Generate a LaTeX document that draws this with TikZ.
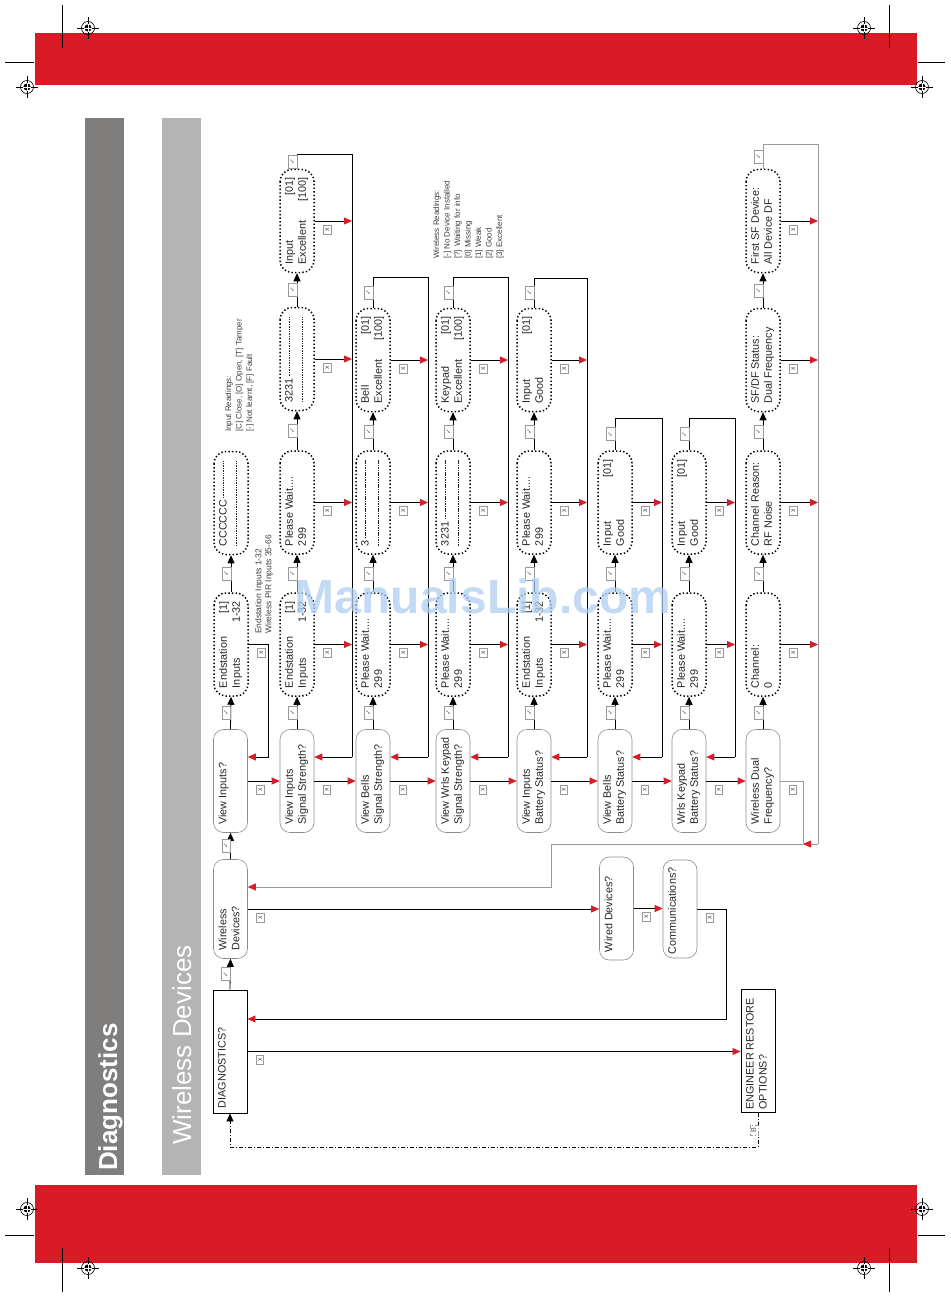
\documentclass[tikz,border=0pt]{standalone}
\usepackage{fontspec}
\setmainfont{Liberation Sans}
\newfontfamily\dejavu{DejaVu Sans}
\usetikzlibrary{arrows.meta,calc}
\definecolor{bandred}{RGB}{216,27,36}
\definecolor{arrred}{RGB}{215,30,40}
\definecolor{darkbar}{RGB}{128,126,124}
\definecolor{lightbar}{RGB}{180,180,180}
\definecolor{wmark}{RGB}{175,205,242}
\newcommand\nt[2][87pt]{\parbox[c][24pt][t]{#1}{\raggedright #2}}
\newcommand\rt{\hskip0pt plus1filll\relax}
\newcommand\dfill{\leavevmode\leaders\hbox to 2.4pt{\hss\rule[2.8pt]{1.5pt}{0.45pt}\hss}\hskip0pt plus1filll\mbox{}}
\newcommand\regmk[2]{%
  \draw[line width=0.5pt] (#1-11,#2) -- (#1+11,#2) (#1,#2-11) -- (#1,#2+11);
  \draw[line width=0.6pt] (#1,#2) circle (6.5pt);
  \fill (#1,#2) circle (3.6pt);
  \draw[white, line width=0.5pt] (#1-3.6,#2) -- (#1+3.6,#2) (#1,#2-3.6) -- (#1,#2+3.6);}
\tikzset{
  base/.style={rotate=90, inner xsep=8pt, inner ysep=5pt, font=\fontsize{10.8}{13}\selectfont, text=black!85},
  qbox/.style={base, draw=black!45, line width=0.6pt, rounded corners=10pt},
  dbox/.style={base, draw=black, line width=1.5pt, dash pattern=on 1.4pt off 2.2pt, rounded corners=12pt},
  sbox/.style={base, draw=black, line width=0.9pt},
  ln/.style={line width=0.8pt, black},
  gry/.style={line width=0.8pt, black!40},
  yes/.style={ln, -{Triangle[length=8pt,width=7pt]}},
  no/.style={ln, -{Triangle[length=8pt,width=7pt,color=arrred]}},
  redtip/.style={-{Triangle[length=8pt,width=7pt,color=arrred]}},
  tick/.style={rotate=90, draw=black!40, fill=white, line width=0.5pt, inner sep=0pt, minimum width=13pt, minimum height=8.5pt, font=\dejavu\fontsize{7}{7}\selectfont, text=black!60, anchor=south},
  xlab/.style={rotate=90, draw=black!40, fill=white, line width=0.5pt, inner sep=0pt, minimum width=9pt, minimum height=7.5pt, font=\fontsize{7}{7}\selectfont, text=black!70},
  note/.style={rotate=90, align=left, inner sep=0pt, font=\fontsize{8}{10.5}\selectfont, text=black!75, anchor=north west}
}
\newcommand\xr[2]{\draw[no] (#1.south) -- (#1.south -| #2); \node[xlab] at ($(#1.south)+(12.5,8.5)$) {x};}
\newcommand\ret[3]{%
  \draw[ln] (#1#3.east) -- node[tick]{✓} (#1#3.east |- #2) -- (#2) -- (#2 |- in0);
  \draw[no] (#2 |- in0) -- (#10.south |- in0);}
\begin{document}
\begin{tikzpicture}[x=1pt, y=-1pt]
\useasboundingbox (0,0) rectangle (950,1297);
% page furniture
\fill[bandred] (35,33) rectangle (917,85);
\fill[bandred] (35,1185) rectangle (917,1263);
\fill[darkbar] (85,118) rectangle (124,1175);
\fill[lightbar] (162,118) rectangle (201,1175);
\draw[line width=0.5pt] (62,5) -- (62,48) (5,62) -- (34,62) (889,5) -- (889,48) (918,62) -- (945,62);
\draw[line width=0.5pt] (62,1248) -- (62,1292) (5,1235) -- (34,1235) (889,1248) -- (889,1292) (918,1235) -- (945,1235);
\regmk{88}{28} \regmk{864}{28} \regmk{27}{87} \regmk{922}{87}
\regmk{27}{1209} \regmk{922}{1209} \regmk{88}{1268} \regmk{864}{1268}
\node[rotate=90, anchor=base west, inner sep=0pt, text=white, font=\bfseries\fontsize{26}{26}\selectfont] (ttl) at (117,1171) {Diagnostics};
\node[rotate=90, anchor=base west, inner sep=0pt, text=white, font=\fontsize{26}{26}\selectfont] (sub) at (191,1145) {Wireless Devices};
% nodes
\node[qbox] (A0) at (230.5,781) {\nt{View Inputs?}};
\node[dbox] (A1) at (231,644.5) {\nt{Endstation\rt[1]\\Inputs\rt 1-32}};
\node[dbox] (A2) at (231,503) {\nt{CCCCCC\dfill\\\dfill}};
\node[qbox] (AW) at (230.5,909) {\nt[83pt]{Wireless\\Devices?}};
\node[sbox, inner xsep=5pt] (AD) at (230,1051.5) {\nt[113pt]{DIAGNOSTICS?}};
\node[qbox] (B0) at (297,781) {\nt{View Inputs\\Signal Strength?}};
\node[dbox] (B1) at (297,644.5) {\nt{Endstation\rt[1]\\Inputs\rt 1-32}};
\node[dbox] (B2) at (297,502.5) {\nt{Please Wait....\\299}};
\node[dbox] (B3) at (297,359) {\nt{3231\dfill\\\dfill}};
\node[dbox] (B4) at (297,221) {\nt{Input\rt[01]\\Excellent\rt[100]}};
\node[qbox] (C0) at (373,781) {\nt{View Bells\\Signal Strength?}};
\node[dbox] (C1) at (373,644.5) {\nt{Please Wait....\\299}};
\node[dbox] (C2) at (373,502.5) {\nt{3\dfill\\\dfill}};
\node[dbox] (C3) at (373,360) {\nt{Bell\rt[01]\\Excellent\rt[100]}};
\node[qbox] (D0) at (453,781) {\nt{View Wrls Keypad\\Signal Strength?}};
\node[dbox] (D1) at (453,644.5) {\nt{Please Wait....\\299}};
\node[dbox] (D2) at (453,502.5) {\nt{3231\dfill\\\dfill}};
\node[dbox] (D3) at (453,360) {\nt{Keypad\rt[01]\\Excellent\rt[100]}};
\node[qbox] (E0) at (534,781) {\nt{View Inputs\\Battery Status?}};
\node[dbox] (E1) at (534,644.5) {\nt{Endstation\rt[1]\\Inputs\rt 1-32}};
\node[dbox] (E2) at (534,502.5) {\nt{Please Wait....\\299}};
\node[dbox] (E3) at (534,360) {\nt{Input\rt[01]\\Good}};
\node[qbox] (F0) at (615,781) {\nt{View Bells\\Battery Status?}};
\node[dbox] (F1) at (615,644.5) {\nt{Please Wait....\\299}};
\node[dbox] (F2) at (615,502.5) {\nt{Input\rt[01]\\Good}};
\node[qbox] (G0) at (689,781) {\nt{Wrls Keypad\\Battery Status?}};
\node[dbox] (G1) at (689,644.5) {\nt{Please Wait....\\299}};
\node[dbox] (G2) at (689,502.5) {\nt{Input\rt[01]\\Good}};
\node[qbox] (H0) at (763,781) {\nt{Wireless Dual\\Frequency?}};
\node[dbox] (H1) at (763,644.5) {\nt{Channel:\\0}};
\node[dbox] (H2) at (763,502.5) {\nt{Channel Reason:\\RF Noise}};
\node[dbox] (H3) at (763,360) {\nt{SF/DF Status:\\Dual Frequency}};
\node[dbox] (H4) at (763,221) {\nt{First SF Device:\\All Device DF}};
\node[qbox] (WD) at (616.5,908.5) {\nt{Wired Devices?}};
\node[qbox, inner xsep=4pt] (CM) at (680,909) {\nt[90pt]{Communications?}};
\node[sbox, inner xsep=3pt] (EN) at (758,1051) {\nt[117pt]{ENGINEER RESTORE\\OPTIONS?}};
% notes
\node[note] (n1) at (225,432) {Input Readings:\\{}[C] Close, [O] Open, [T] Tamper\\{}[-] Not learnt, [F] Fault};
\node[note, font=\fontsize{8.5}{10}\selectfont] (n2) at (255,634) {Endstation Inputs 1-32\\Wireless PIR Inputs 35-66};
\node[note] (n3) at (433,259) {Wireless Readings:\\{}[-] No Device Installed\\{}[?] Waiting for info\\{}[0] Missing\\{}[1] Weak\\{}[2] Good\\{}[3] Excellent};
% coordinates
\coordinate (in0) at (0,757);
\coordinate (rA) at (268,644.5);
\coordinate (rB) at (352,154);
\coordinate (rC) at (428,277);
\coordinate (rD) at (508,277);
\coordinate (rE) at (587,278);
\coordinate (rF) at (662,418);
\coordinate (rG) at (735,418);
\coordinate (rH) at (818,144);
\coordinate (rHb) at (818,844);
\coordinate (jH) at (803,844);
\coordinate (k1) at (551,844);
\coordinate (k2) at (551,887);
\coordinate (cR) at (726,1019);
\coordinate (bB) at (758,1147);
% yes connectors
\foreach \a/\b in {AD/AW, AW/A0, A0/A1, A1/A2, B0/B1, B1/B2, B2/B3, B3/B4, C0/C1, C1/C2, C2/C3, D0/D1, D1/D2, D2/D3, E0/E1, E1/E2, E2/E3, F0/F1, F1/F2, G0/G1, G1/G2, H0/H1, H1/H2, H2/H3, H3/H4}
  \draw[yes] (\a.east) -- node[tick]{✓} (\b.west);
% row of questions
\foreach \a/\b in {A0/B0, B0/C0, C0/D0, D0/E0, E0/F0, F0/G0, G0/H0}{
  \draw[no] (\a.south) -- (\b.north);
  \node[xlab] at ($(\a.south)+(12.5,8.5)$) {x};}
% column A
\draw[no] (A1.south) -- (A1.south -| rA) -- (rA |- in0) -- (A0.south |- in0);
\node[xlab] at ($(A1.south)+(12.5,8.5)$) {x};
% columns B..G
\xr{B1}{rB} \xr{B2}{rB} \xr{B3}{rB} \xr{B4}{rB} \ret{B}{rB}{4}
\xr{C1}{rC} \xr{C2}{rC} \xr{C3}{rC} \ret{C}{rC}{3}
\xr{D1}{rD} \xr{D2}{rD} \xr{D3}{rD} \ret{D}{rD}{3}
\xr{E1}{rE} \xr{E2}{rE} \xr{E3}{rE} \ret{E}{rE}{3}
\xr{F1}{rF} \xr{F2}{rF} \ret{F}{rF}{2}
\xr{G1}{rG} \xr{G2}{rG} \ret{G}{rG}{2}
% column H
\xr{H1}{rH} \xr{H2}{rH} \xr{H3}{rH} \xr{H4}{rH}
\draw[gry] (H4.east) -- node[tick]{✓} (H4.east |- rH) -- (rH) -- (rHb);
\draw[gry, redtip] (rHb) -- (jH);
\draw[gry] (H0.south) -- (H0.south -| jH) -- (jH);
\node[xlab] at ($(H0.south)+(12.5,8.5)$) {x};
\draw[gry, redtip] (jH) -- (k1) -- (k2) -- (AW.south |- k2);
% lower menu
\draw[no] (AW.south) -- (AW.south -| WD.north);
\node[xlab] at ($(AW.south)+(12.5,8.5)$) {x};
\draw[no] (WD.south) -- (WD.south -| CM.north);
\node[xlab] at ($(WD.south)+(12.5,8.5)$) {x};
\draw[no] (CM.south) -- (CM.south -| cR) -- (cR) -- (AD.south |- cR);
\node[xlab] at ($(CM.south)+(12.5,8.5)$) {x};
\draw[no] (AD.south) -- (AD.south -| EN.north);
\node[xlab] at ($(AD.south)+(12.5,8.5)$) {x};
\draw[ln, dash pattern=on 4pt off 2pt on 1pt off 2pt, -{Triangle[length=8pt,width=7pt]}] (EN.west) -- node[xlab, anchor=south, minimum width=10pt, minimum height=8pt]{B} (EN.west |- bB) -| (AD.west);
% watermark
\node[font=\bfseries\fontsize{48}{48}\selectfont, text=wmark, opacity=0.75] (wmk) at (483,596) {ManualsLib.com};
\end{tikzpicture}
\end{document}
